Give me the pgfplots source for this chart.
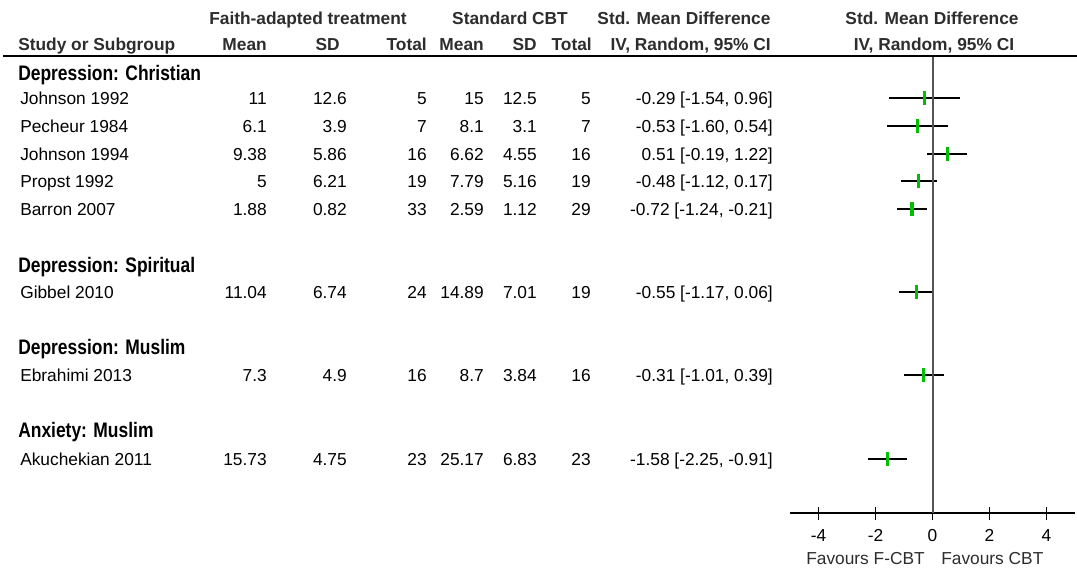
\documentclass[border=0pt]{standalone}
\usepackage{fontspec}
\setmainfont{Liberation Sans}
\newfontfamily\headfont{Liberation Sans}[FakeStretch=0.83]
\usepackage{pgfplots}
\pgfplotsset{compat=1.18}
\usepackage{pgfplotstable}
\definecolor{fgreen}{RGB}{0,190,0}
\definecolor{hdr}{RGB}{45,45,45}
\definecolor{zline}{RGB}{85,85,85}
\newcommand\tf{\fontsize{13}{15}\selectfont}
\newcommand\hf{\headfont\bfseries\fontsize{15.75}{18}\selectfont}

\pgfplotstableread{
y est lo hi
98 -0.29 -1.54 0.96
126 -0.53 -1.60 0.54
154 0.51 -0.19 1.22
181 -0.48 -1.12 0.17
209 -0.72 -1.24 -0.21
292 -0.55 -1.17 0.06
375 -0.31 -1.01 0.39
459 -1.58 -2.25 -0.91
}\cidata

\newcommand\row[9]{%
  \node[anchor=base west] at (20,#1+6) {#2};
  \node[anchor=base east] at (267,#1+6) {#3};
  \node[anchor=base east] at (347,#1+6) {#4};
  \node[anchor=base east] at (427,#1+6) {#5};
  \node[anchor=base east] at (484,#1+6) {#6};
  \node[anchor=base east] at (537,#1+6) {#7};
  \node[anchor=base east] at (591,#1+6) {#8};
  \node[anchor=base east] at (773,#1+6) {#9};
}

\begin{document}
\begin{tikzpicture}
\begin{axis}[
  at={(592.5pt,-384.75pt)}, anchor=south west,
  width=213.75pt, height=342.75pt, scale only axis,
  xmin=-5, xmax=5, ymin=-513, ymax=-56,
  clip=false,
  axis x line*=bottom, axis y line=none,
  axis line style={black, line width=0.9pt},
  xtick={-4,-2,0,2,4}, xticklabels={-4,-2,0,2,4},
  xtick align=center, major tick length=9.75pt,
  tick style={black, line width=0.9pt},
  xticklabel style={font=\tf, text=black, inner sep=0pt, anchor=north, yshift=-7.2pt},
]
\addplot[draw=none, mark=none, forget plot,
  error bars/.cd, x dir=both, x explicit, error mark=none,
  error bar style={draw=black, line width=1.1pt}]
  table[x=est, y expr=-\thisrow{y},
        x error plus expr=\thisrow{hi}-\thisrow{est},
        x error minus expr=\thisrow{est}-\thisrow{lo}] {\cidata};
\addplot[zline, line width=1.5pt, mark=none, forget plot] coordinates {(0,-56) (0,-513)};
\addplot[only marks, mark=|, mark size=4.9pt,
  mark options={draw=fgreen, line width=2.3pt}]
  table[x=est, y expr=-\thisrow{y}] {\cidata};
\end{axis}

\begin{scope}[x=0.75pt,y=-0.75pt, font=\tf, every node/.style={inner sep=0pt}]
\path[use as bounding box] (0,0) rectangle (1077,571);
% top header
\node[anchor=base, text=hdr, font=\tf\bfseries] at (308,24) {Faith-adapted treatment};
\node[anchor=base, text=hdr, font=\tf\bfseries] at (510,24) {Standard CBT};
\node[anchor=base, text=hdr, font=\tf\bfseries] at (684,24) {Std. Mean Difference};
\node[anchor=base, text=hdr, font=\tf\bfseries] at (932,24) {Std. Mean Difference};
% second header
\node[anchor=base west, text=hdr, font=\tf\bfseries] at (18,50) {Study or Subgroup};
\node[anchor=base east, text=hdr, font=\tf\bfseries] at (267,50) {Mean};
\node[anchor=base east, text=hdr, font=\tf\bfseries] at (340,50) {SD};
\node[anchor=base east, text=hdr, font=\tf\bfseries] at (427,50) {Total};
\node[anchor=base east, text=hdr, font=\tf\bfseries] at (484,50) {Mean};
\node[anchor=base east, text=hdr, font=\tf\bfseries] at (537,50) {SD};
\node[anchor=base east, text=hdr, font=\tf\bfseries] at (592,50) {Total};
\node[anchor=base east, text=hdr, font=\tf\bfseries] at (771,50) {IV, Random, 95\% CI};
\node[anchor=base, text=hdr, font=\tf\bfseries] at (934,50) {IV, Random, 95\% CI};
\draw[black, line width=1pt] (3,56) -- (1077,56);
% groups
\node[anchor=base west, font=\hf] at (18,80) {Depression: Christian};
\row{98}{Johnson 1992}{11}{12.6}{5}{15}{12.5}{5}{-0.29 [-1.54, 0.96]}
\row{126}{Pecheur 1984}{6.1}{3.9}{7}{8.1}{3.1}{7}{-0.53 [-1.60, 0.54]}
\row{154}{Johnson 1994}{9.38}{5.86}{16}{6.62}{4.55}{16}{0.51 [-0.19, 1.22]}
\row{181}{Propst 1992}{5}{6.21}{19}{7.79}{5.16}{19}{-0.48 [-1.12, 0.17]}
\row{209}{Barron 2007}{1.88}{0.82}{33}{2.59}{1.12}{29}{-0.72 [-1.24, -0.21]}
\node[anchor=base west, font=\hf] at (18,272) {Depression: Spiritual};
\row{292}{Gibbel 2010}{11.04}{6.74}{24}{14.89}{7.01}{19}{-0.55 [-1.17, 0.06]}
\node[anchor=base west, font=\hf] at (18,354) {Depression: Muslim};
\row{375}{Ebrahimi 2013}{7.3}{4.9}{16}{8.7}{3.84}{16}{-0.31 [-1.01, 0.39]}
\node[anchor=base west, font=\hf] at (18,437) {Anxiety: Muslim};
\row{459}{Akuchekian 2011}{15.73}{4.75}{23}{25.17}{6.83}{23}{-1.58 [-2.25, -0.91]}
% favours
\node[anchor=base east, text=hdr] at (925,564) {Favours F-CBT};
\node[anchor=base west, text=hdr] at (941,564) {Favours CBT};
\end{scope}
\end{tikzpicture}
\end{document}
